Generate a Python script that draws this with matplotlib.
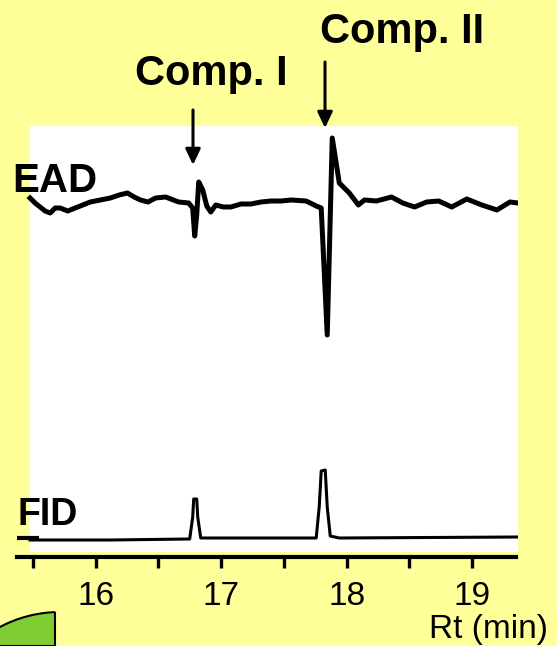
import matplotlib.pyplot as plt
from matplotlib.patches import Rectangle, Polygon
import numpy as np

# EAD trace (retention time in min, response in arbitrary units)
ead_time = [15.477, 15.517, 15.557, 15.597, 15.637, 15.677, 15.717, 15.777, 15.837, 15.897,
            15.957, 16.037, 16.117, 16.187, 16.253, 16.307, 16.357, 16.417, 16.477, 16.557,
            16.661, 16.741, 16.773, 16.789, 16.805, 16.821, 16.853, 16.885, 16.917, 16.957,
            17.017, 17.077, 17.157, 17.237, 17.317, 17.397, 17.477, 17.557, 17.677, 17.757,
            17.797, 17.845, 17.885, 17.941, 18.021, 18.093, 18.141, 18.237, 18.357, 18.447,
            18.541, 18.637, 18.733, 18.837, 18.957, 19.077, 19.197, 19.301, 19.365]
ead_signal = [359, 354, 350, 346, 344, 349, 349, 346, 349, 352,
              355, 357, 359, 362, 364, 360, 357, 355, 359, 360,
              355, 354, 349, 321, 342, 375, 367, 351, 345, 352,
              350, 350, 353, 353, 355, 356, 356, 357, 356, 351,
              349, 222, 419, 374, 364, 352, 357, 356, 360, 354,
              350, 355, 356, 350, 358, 352, 347, 355, 354]

# FID trace
fid_time = [15.477, 16.117, 16.749, 16.773, 16.781, 16.805, 16.813, 16.837, 17.757,
            17.781, 17.797, 17.829, 17.845, 17.869, 17.941, 19.365]
fid_signal = [17, 17, 18, 40, 58, 58, 40, 19, 19,
              50, 86, 87, 50, 21, 19, 20]

major_ticks = [16, 17, 18, 19]
minor_ticks = [15.5, 16.5, 17.5, 18.5]

W, H = 557, 646
def fx(px):
    return px / W
def fy(py):
    return 1 - py / H

plt.rcParams['font.family'] = ['Liberation Sans', 'DejaVu Sans']

fig = plt.figure(figsize=(W / 100, H / 100), dpi=100, facecolor='#FFFF99')
ax = fig.add_axes([fx(17), fy(557), fx(518) - fx(17), fy(126) - fy(557)])
ax.set_facecolor('none')
ax.set_xlim(15.373, 19.365)
ax.set_ylim(0, 431)

# white plotting area
ax.add_patch(Rectangle((15.477, 5), 19.365 - 15.477, 426, facecolor='white',
                       edgecolor='none', zorder=0))

ax.plot(ead_time, ead_signal, color='black', lw=3.6, solid_joinstyle='round', zorder=2)
ax.plot(fid_time, fid_signal, color='black', lw=2.2, solid_joinstyle='round', zorder=2)
ax.plot([15.373, 15.549], [fid_signal[0] + 2, fid_signal[0] + 2], color='black', lw=3,
        solid_capstyle='butt', clip_on=False)

for s in ['top', 'right', 'left']:
    ax.spines[s].set_visible(False)
ax.spines['bottom'].set_linewidth(3)
ax.spines['bottom'].set_bounds(15.373, 19.349)
ax.set_yticks([])
ax.set_xticks(major_ticks)
ax.set_xticks(minor_ticks, minor=True)
ax.tick_params(axis='x', which='both', direction='out', length=8, width=2.4, labelsize=24, pad=9)
ax.set_xticklabels([str(t) for t in major_ticks])

fig.text(fx(548), fy(638), 'Rt (min)', fontsize=24, ha='right', va='baseline')
fig.text(fx(12), fy(192), 'EAD', fontsize=29, fontweight='bold', va='baseline')
fig.text(fx(18), fy(525), 'FID', fontsize=27, fontweight='bold', va='baseline')
fig.text(fx(135), fy(85), 'Comp. I', fontsize=30, fontweight='bold', va='baseline')
fig.text(fx(320), fy(43), 'Comp. II', fontsize=30, fontweight='bold', va='baseline')

arrow = dict(arrowstyle='-|>,head_length=0.95,head_width=0.45', mutation_scale=10,
             color='black', lw=2.2, shrinkA=0, shrinkB=0)
ax.annotate('', xy=(193, H - 165), xycoords='figure pixels',
            xytext=(193, H - 110), textcoords='figure pixels', arrowprops=arrow)
ax.annotate('', xy=(325, H - 128), xycoords='figure pixels',
            xytext=(325, H - 62), textcoords='figure pixels', arrowprops=arrow)

# green decoration in the lower left corner
ang = np.linspace(np.pi * 0.98, np.pi * 0.5 + 0.04, 30)
arc_x = 60 + 128 * np.cos(ang)
arc_y = 740 - 128 * np.sin(ang)
pts = [(fx(0), fy(646))] + [(fx(x), fy(y)) for x, y in zip(arc_x, arc_y) if x <= 55] \
      + [(fx(55), fy(612)), (fx(55), fy(646))]
fig.add_artist(Polygon(pts, closed=True, facecolor='#7FCC33', edgecolor='black', lw=1.5,
                       transform=fig.transFigure))

fig.savefig('out.png', dpi=100, facecolor=fig.get_facecolor())
